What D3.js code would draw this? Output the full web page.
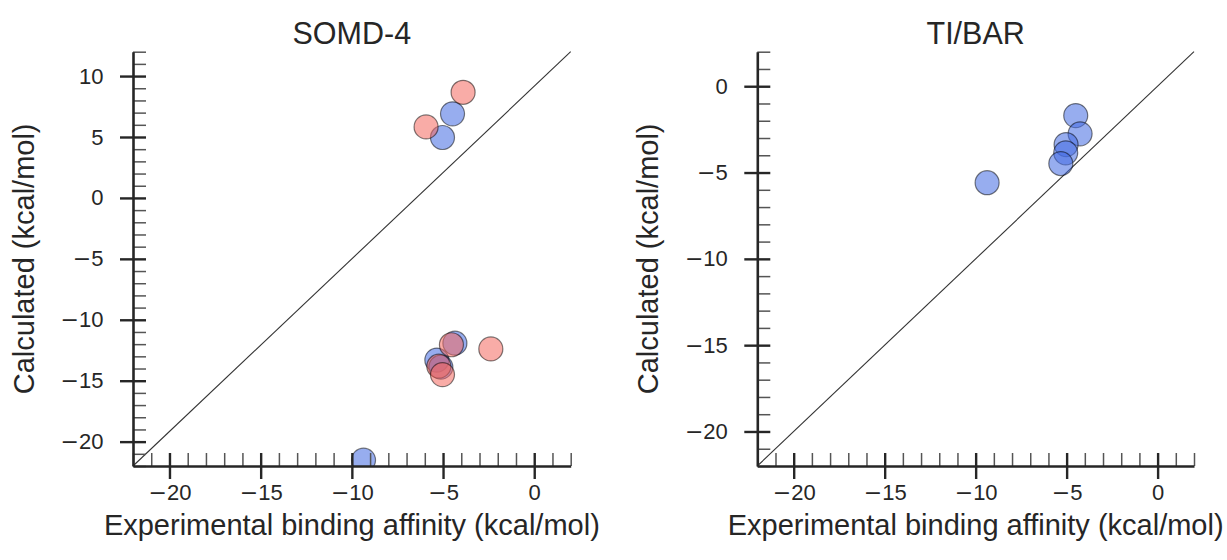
<!DOCTYPE html>
<html>
<head>
<meta charset="utf-8">
<script src="https://cdn.jsdelivr.net/npm/d3@7"></script>
<style>
  html, body { margin: 0; padding: 0; background: #fff; }
  svg { display: block; }
  text { font-family: "Liberation Sans", Arial, Helvetica, sans-serif; fill: #262626; }
</style>
</head>
<body>
<svg id="chart" width="1227" height="560"></svg>
<script>
// ---- data ----
const panelTitles = ["SOMD-4", "TI/BAR"];
const xLabel = "Experimental binding affinity (kcal/mol)";
const yLabel = "Calculated (kcal/mol)";

const xTicks = [-20, -15, -10, -5, 0];
const yTicksLeft = [-20, -15, -10, -5, 0, 5, 10];
const yTicksRight = [-20, -15, -10, -5, 0];

// SOMD-4 (blue run)
const somdBlueExp = [-4.48, -5.03, -4.35, -5.34, -5.12, -9.36];
const somdBlueCalc = [6.90, 4.96, -11.92, -13.31, -13.89, -21.52];
// SOMD-4 (red run)
const somdRedExp = [-3.90, -5.93, -4.54, -2.38, -5.23, -5.03];
const somdRedCalc = [8.67, 5.83, -12.05, -12.39, -13.81, -14.50];
// TI/BAR
const tiExp = [-4.50, -4.26, -5.03, -5.05, -5.32, -9.37];
const tiCalc = [-1.70, -2.76, -3.38, -3.86, -4.48, -5.59];

// ---- drawing ----
const svg = d3.select("#chart");
const defs = svg.append("defs");

const panels = [
  { left: 133, right: 570.7, xDom: [-22, 2], yDom: [-22, 12], yTicks: yTicksLeft,
    series: [
      { exp: somdBlueExp, calc: somdBlueCalc, color: "royalblue" },
      { exp: somdRedExp, calc: somdRedCalc, color: "#f4685f" }
    ] },
  { left: 757.3, right: 1194, xDom: [-22, 2], yDom: [-22, 2], yTicks: yTicksRight,
    series: [
      { exp: tiExp, calc: tiCalc, color: "royalblue" }
    ] }
];
const plotTop = 51.7, plotBottom = 466;

function styleTickText(sel) {
  sel.each(function(d) {
    const t = d3.select(this);
    t.text(null).attr("font-size", 22).attr("fill", "#262626");
    if (d < 0) {
      t.append("tspan").style("font-family", "'DejaVu Sans', sans-serif").text("\u2212");
      t.append("tspan").text(String(Math.abs(d)));
    } else {
      t.append("tspan").text(String(d));
    }
  });
}

panels.forEach((p, i) => {
  const x = d3.scaleLinear().domain(p.xDom).range([p.left, p.right]);
  const y = d3.scaleLinear().domain(p.yDom).range([plotBottom, plotTop]);
  const g = svg.append("g");

  const clipId = "clip" + i;
  defs.append("clipPath").attr("id", clipId)
    .append("rect").attr("x", p.left).attr("y", plotTop)
    .attr("width", p.right - p.left).attr("height", plotBottom - plotTop);

  // diagonal
  g.append("line")
    .attr("x1", x(p.xDom[0])).attr("y1", y(p.yDom[0]))
    .attr("x2", x(p.xDom[1])).attr("y2", y(p.yDom[1]))
    .attr("stroke", "#333").attr("stroke-width", 1.1);

  // points
  const pts = g.append("g").attr("clip-path", `url(#${clipId})`);
  p.series.forEach(s => {
    pts.selectAll(null).data(s.exp.map((e, k) => [e, s.calc[k]]))
      .join("circle")
      .attr("cx", d => x(d[0])).attr("cy", d => y(d[1]))
      .attr("r", 12)
      .attr("fill", s.color).attr("fill-opacity", 0.55)
      .attr("stroke", "#000").attr("stroke-opacity", 0.5).attr("stroke-width", 1.2);
  });

  // minor ticks (inward)
  const xMinor = d3.range(p.xDom[0], p.xDom[1] + 1).filter(v => v % 5 !== 0);
  const yMinor = d3.range(p.yDom[0], p.yDom[1] + 1).filter(v => v % 5 !== 0);
  const gxm = g.append("g").attr("transform", `translate(0,${plotBottom})`)
    .call(d3.axisBottom(x).tickValues(xMinor).tickSize(-13).tickFormat(""));
  gxm.select(".domain").remove();
  gxm.selectAll(".tick line").attr("stroke", "#555").attr("stroke-width", 1.5);
  const gym = g.append("g").attr("transform", `translate(${p.left},0)`)
    .call(d3.axisLeft(y).tickValues(yMinor).tickSize(-13).tickFormat(""));
  gym.select(".domain").remove();
  gym.selectAll(".tick line").attr("stroke", "#555").attr("stroke-width", 1.5);

  // major axes
  const gx = g.append("g").attr("transform", `translate(0,${plotBottom})`)
    .call(d3.axisBottom(x).tickValues(xTicks).tickSize(13).tickSizeOuter(0).tickPadding(5));
  gx.selectAll(".tick line").attr("y1", -13);
  const gy = g.append("g").attr("transform", `translate(${p.left},0)`)
    .call(d3.axisLeft(y).tickValues(p.yTicks).tickSize(13).tickSizeOuter(0).tickPadding(16.5));
  gy.selectAll(".tick line").attr("x1", 13);
  [gx, gy].forEach(a => {
    a.select(".domain").attr("stroke", "#262626").attr("stroke-width", 2.6);
    a.selectAll(".tick line").attr("stroke", "#262626").attr("stroke-width", 2.4);
    a.selectAll(".tick text").call(styleTickText);
  });

  // title
  g.append("text").attr("x", (p.left + p.right) / 2).attr("y", 44)
    .attr("text-anchor", "middle").attr("font-size", 30.5).text(panelTitles[i]);
  // x label
  g.append("text").attr("x", (p.left + p.right) / 2).attr("y", 535)
    .attr("text-anchor", "middle").attr("font-size", 29).text(xLabel);
  // y label
  g.append("text")
    .attr("transform", `translate(${p.left - 99},${(plotTop + plotBottom) / 2}) rotate(-90)`)
    .attr("text-anchor", "middle").attr("font-size", 29).text(yLabel);
});
</script>
</body>
</html>
